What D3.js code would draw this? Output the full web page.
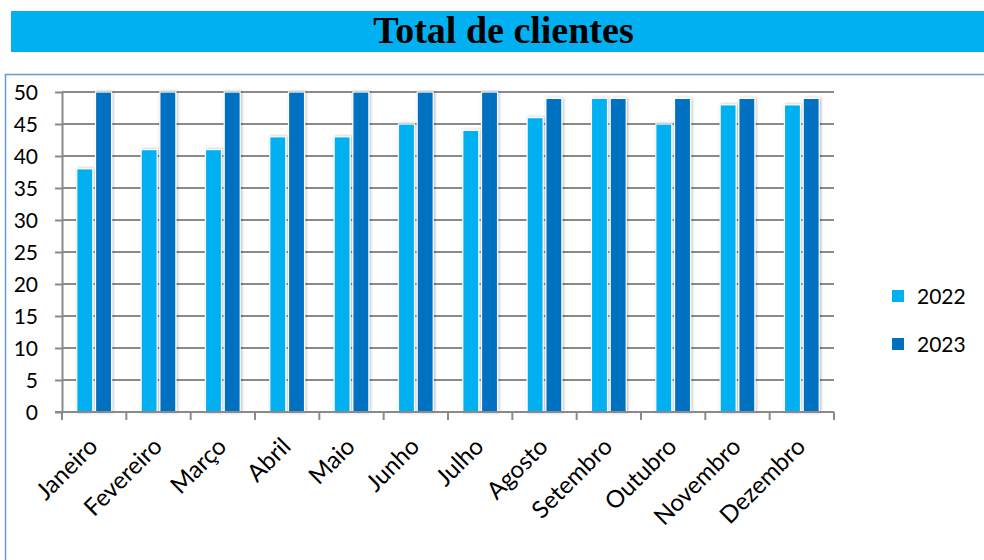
<!DOCTYPE html>
<html>
<head>
<meta charset="utf-8">
<script src="https://cdn.jsdelivr.net/npm/d3@7"></script>
<style>
  html, body { margin: 0; padding: 0; background: #fff; }
  svg { display: block; }
</style>
</head>
<body>
<script>
const months = ["Janeiro","Fevereiro","Março","Abril","Maio","Junho","Julho","Agosto","Setembro","Outubro","Novembro","Dezembro"];
const series = ["2022", "2023"];
const values2022 = [38, 41, 41, 43, 43, 45, 44, 46, 49, 45, 48, 48];
const values2023 = [50, 50, 50, 50, 50, 50, 50, 49, 49, 49, 49, 49];
const yTicks = [0, 5, 10, 15, 20, 25, 30, 35, 40, 45, 50];
const colors = ["#00B0F0", "#0070C0"];
const title = "Total de clientes";

(function () {
const W = 984, H = 560;
const svg = d3.select("body").append("svg").attr("width", W).attr("height", H);

const defs = svg.append("defs");
const f = defs.append("filter").attr("id", "shadow").attr("x", "-30%").attr("y", "-10%").attr("width", "160%").attr("height", "120%");
f.append("feDropShadow").attr("dx", 1).attr("dy", 0).attr("stdDeviation", 1.8)
  .attr("flood-color", "#000").attr("flood-opacity", 0.3);

// Title bar
svg.append("rect").attr("x", 11).attr("y", 11).attr("width", 985).attr("height", 41).attr("fill", "#00B0F0");
svg.append("text").attr("x", 503.5).attr("y", 42.5).attr("text-anchor", "middle")
  .attr("font-family", "'Liberation Serif', 'Times New Roman', serif").attr("font-weight", "bold")
  .attr("font-size", 38).attr("fill", "#000").text(title);

// Chart frame
svg.append("rect").attr("x", 5.5).attr("y", 74.5).attr("width", 1000).attr("height", 600)
  .attr("fill", "none").attr("stroke", "#6A9AD6").attr("stroke-width", 1.5);

const pLeft = 62, pRight = 834, pTop = 92, pBottom = 412;
const x = d3.scaleBand().domain(months).range([pLeft, pRight]).padding(0);
const xs = d3.scaleBand().domain(series).range([0, x.bandwidth()]).paddingInner(0.144).paddingOuter(0.79);
const y = d3.scaleLinear().domain([0, 50]).range([pBottom, pTop]);

const font = "Lato, 'Open Sans', sans-serif";
const gridColor = "#8A8A8A";

// Gridlines
svg.append("g").selectAll("line").data(yTicks).join("line")
  .attr("x1", pLeft).attr("x2", pRight)
  .attr("y1", d => y(d)).attr("y2", d => y(d))
  .attr("stroke", gridColor).attr("stroke-width", 2);

// Y axis
const yAxis = svg.append("g").attr("transform", `translate(${pLeft},0)`)
  .call(d3.axisLeft(y).tickValues(yTicks).tickSize(7).tickPadding(17).tickSizeOuter(0));
yAxis.select(".domain").attr("stroke", gridColor).attr("stroke-width", 2);
yAxis.selectAll(".tick line").attr("stroke", gridColor).attr("stroke-width", 2);
yAxis.selectAll("text").attr("font-family", font).attr("font-size", 21).attr("fill", "#000").attr("dy", "0.38em");

// Bars
const data = months.map((m, i) => ({ month: m, vals: [values2022[i], values2023[i]] }));
const groups = svg.append("g").selectAll("g").data(data).join("g")
  .attr("transform", d => `translate(${x(d.month)},0)`);
groups.selectAll("rect").data(d => d.vals.map((v, j) => ({ s: series[j], v, j }))).join("rect")
  .attr("x", d => xs(d.s)).attr("width", xs.bandwidth())
  .attr("y", d => y(d.v)).attr("height", d => y(0) - y(d.v))
  .attr("fill", d => colors[d.j]).attr("stroke", "#fff").attr("stroke-width", 1.2)
  .attr("filter", "url(#shadow)");

// X axis
const xAxis = svg.append("g").attr("transform", `translate(0,${pBottom})`)
  .call(d3.axisBottom(x).tickSize(0).tickPadding(0).tickSizeOuter(0));
xAxis.select(".domain").remove();
svg.append("line").attr("x1", pLeft - 7).attr("x2", pRight).attr("y1", pBottom).attr("y2", pBottom)
  .attr("stroke", gridColor).attr("stroke-width", 2);
const bounds = months.map(m => x(m)).concat([pRight]);
svg.append("g").selectAll("line").data(bounds).join("line")
  .attr("x1", d => d).attr("x2", d => d).attr("y1", pBottom).attr("y2", pBottom + 8)
  .attr("stroke", gridColor).attr("stroke-width", 2);
xAxis.selectAll("text")
  .attr("font-family", font).attr("font-size", 24).attr("fill", "#000")
  .attr("text-anchor", "end").attr("x", 0).attr("y", 0).attr("dy", 0)
  .attr("transform", "translate(5,36) rotate(-45)");

// Legend
const legend = svg.append("g").selectAll("g").data(series).join("g")
  .attr("transform", (d, i) => `translate(892,${290 + i * 48})`);
legend.append("rect").attr("width", 12).attr("height", 12).attr("fill", (d, i) => colors[i]);
legend.append("text").attr("x", 25).attr("y", 14).attr("font-family", font).attr("font-size", 21)
  .attr("fill", "#000").text(d => d);
})();
</script>
</body>
</html>
